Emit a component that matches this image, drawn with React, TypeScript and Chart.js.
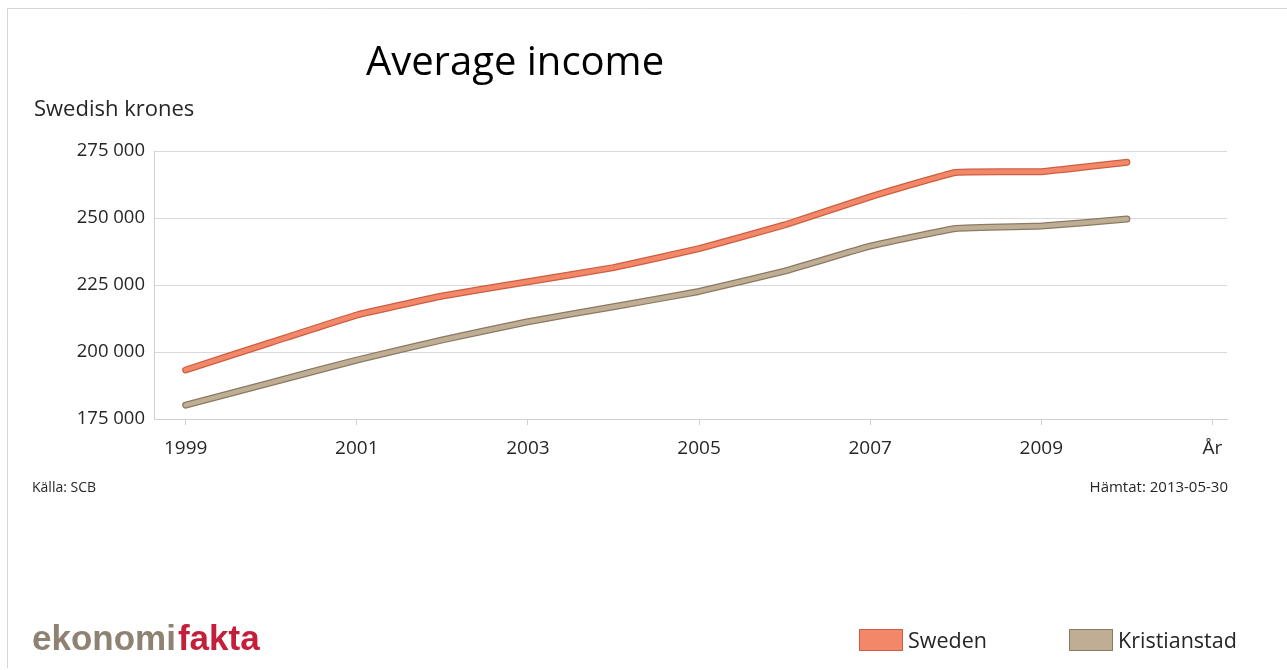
import React, { useEffect, useRef } from "react";
import { Chart, registerables } from "chart.js";

Chart.register(...registerables);

// ---- data ----
const years = [1999, 2000, 2001, 2002, 2003, 2004, 2005, 2006, 2007, 2008, 2009, 2010];
const sweden = [193300, 203600, 213800, 220900, 226200, 231500, 238600, 247400, 257900, 267000, 267300, 270800];
const kristianstad = [180200, 188600, 197000, 204500, 211300, 216900, 222600, 230200, 239500, 246100, 247000, 249600];
const seriesNames = ["Sweden", "Kristianstad"];
const xTickValues = [1999, 2001, 2003, 2005, 2007, 2009, 2011];
const xTickLabels = ["1999", "2001", "2003", "2005", "2007", "2009", "År"];
const yTickValues = [175000, 200000, 225000, 250000, 275000];
const titleText = "Average income";
const yCaption = "Swedish krones";
const sourceLeft = "Källa: SCB";
const sourceRight = "Hämtat: 2013-05-30";

// ---- styles ----
const W = 1287;
const H = 670;
const AREA = { left: 154, top: 151, right: 1227, bottom: 419 };
const FONT = "'Open Sans', 'DejaVu Sans', sans-serif";
const TEXT = "#262626";
const fills = ["#F2876A", "#BFAE93"];
const edges = ["#CC5F3F", "#8A7A64"];

const fmt = (v: number) => {
  const s = Math.round(v).toString();
  return s.replace(/\B(?=(\d{3})+(?!\d))/g, " ");
};

const decor = {
  id: "decor",
  afterDraw(chart: any) {
    const ctx = chart.ctx as CanvasRenderingContext2D;
    ctx.save();
    // frame
    ctx.strokeStyle = "#d6d6d6";
    ctx.lineWidth = 1;
    ctx.beginPath();
    ctx.moveTo(7.5, 668);
    ctx.lineTo(7.5, 8.5);
    ctx.lineTo(W, 8.5);
    ctx.stroke();

    // title
    ctx.fillStyle = "#000";
    ctx.textBaseline = "alphabetic";
    ctx.textAlign = "center";
    ctx.font = `40px ${FONT}`;
    ctx.fillText(titleText, 515, 75);

    // y caption
    ctx.textAlign = "left";
    ctx.fillStyle = TEXT;
    ctx.font = `22px ${FONT}`;
    ctx.fillText(yCaption, 34, 116);

    // sources
    ctx.font = `14px ${FONT}`;
    ctx.fillText(sourceLeft, 32, 492);
    ctx.textAlign = "right";
    ctx.font = `15px ${FONT}`;
    ctx.fillText(sourceRight, 1228, 492);

    // logo
    ctx.textAlign = "left";
    ctx.font = `bold 35px 'Liberation Sans', sans-serif`;
    ctx.fillStyle = "#8E8272";
    const part1 = "ekonomi";
    ctx.fillText(part1, 32, 650);
    const w1 = ctx.measureText(part1).width;
    ctx.fillStyle = "#C41E3A";
    ctx.fillText("fakta", 32 + w1 + 2, 650);

    // legend
    ctx.font = `21.5px ${FONT}`;
    const legendX = [859, 1069];
    seriesNames.forEach((name, i) => {
      const x = legendX[i];
      ctx.fillStyle = fills[i];
      ctx.fillRect(x, 629, 44, 22);
      ctx.strokeStyle = edges[i];
      ctx.lineWidth = 1;
      ctx.strokeRect(x + 0.5, 629.5, 43, 21);
      ctx.fillStyle = TEXT;
      ctx.textAlign = "left";
      ctx.fillText(name, x + 49, 648);
    });
    ctx.restore();
  },
};

export default function App() {
  const ref = useRef<HTMLCanvasElement | null>(null);
  useEffect(() => {
    if (!ref.current) return;
    const series = [sweden, kristianstad];
    const datasets: any[] = [];
    series.forEach((vals, i) => {
      const pts = years.map((x, k) => ({ x, y: vals[k] }));
      datasets.push({
        label: seriesNames[i] + " outline",
        data: pts,
        borderColor: edges[i],
        borderWidth: 7,
        pointRadius: 0,
        tension: 0.1,
        order: 2,
        borderCapStyle: "round",
        borderJoinStyle: "round",
      });
      datasets.push({
        label: seriesNames[i],
        data: pts,
        borderColor: fills[i],
        borderWidth: 4.5,
        pointRadius: 0,
        tension: 0.1,
        order: 1,
        borderCapStyle: "round",
        borderJoinStyle: "round",
      });
    });
    const chart = new Chart(ref.current, {
      type: "line",
      data: { datasets },
      options: {
        responsive: false,
        animation: false,
        devicePixelRatio: 1,
        layout: { padding: { left: 0, top: AREA.top, right: W - AREA.right, bottom: 0 } },
        plugins: { legend: { display: false }, tooltip: { enabled: false }, title: { display: false } },
        scales: {
          x: {
            type: "linear",
            min: 1998.63,
            max: 2011.17,
            afterBuildTicks: (s: any) => {
              s.ticks = xTickValues.map((v) => ({ value: v }));
            },
            afterFit: (s: any) => {
              s.height = H - AREA.bottom;
            },
            ticks: {
              autoSkip: false,
              maxRotation: 0,
              padding: 12,
              color: TEXT,
              font: { family: FONT, size: 19 },
              callback: (v: any) => {
                const idx = xTickValues.indexOf(Number(v));
                return idx >= 0 ? xTickLabels[idx] : "";
              },
            },
            grid: { drawOnChartArea: false, tickLength: 6, color: "#d0d0d0" },
            border: { color: "#d0d0d0" },
          },
          y: {
            min: 175000,
            max: 275000,
            afterBuildTicks: (s: any) => {
              s.ticks = yTickValues.map((v) => ({ value: v }));
            },
            afterFit: (s: any) => {
              s.width = AREA.left;
            },
            ticks: {
              padding: 9,
              color: TEXT,
              font: { family: FONT, size: 18.5 },
              callback: (v: any) => fmt(Number(v)),
            },
            grid: { drawTicks: false, color: "#d9d9d9" },
            border: { color: "#d0d0d0" },
          },
        },
      },
      plugins: [decor],
    } as any);
    return () => chart.destroy();
  }, []);
  return (
    <div style={{ position: "absolute", left: 0, top: 0, width: W, height: H, background: "#fff" }}>
      <canvas ref={ref} width={W} height={H} style={{ display: "block", width: W, height: H }} />
    </div>
  );
}
